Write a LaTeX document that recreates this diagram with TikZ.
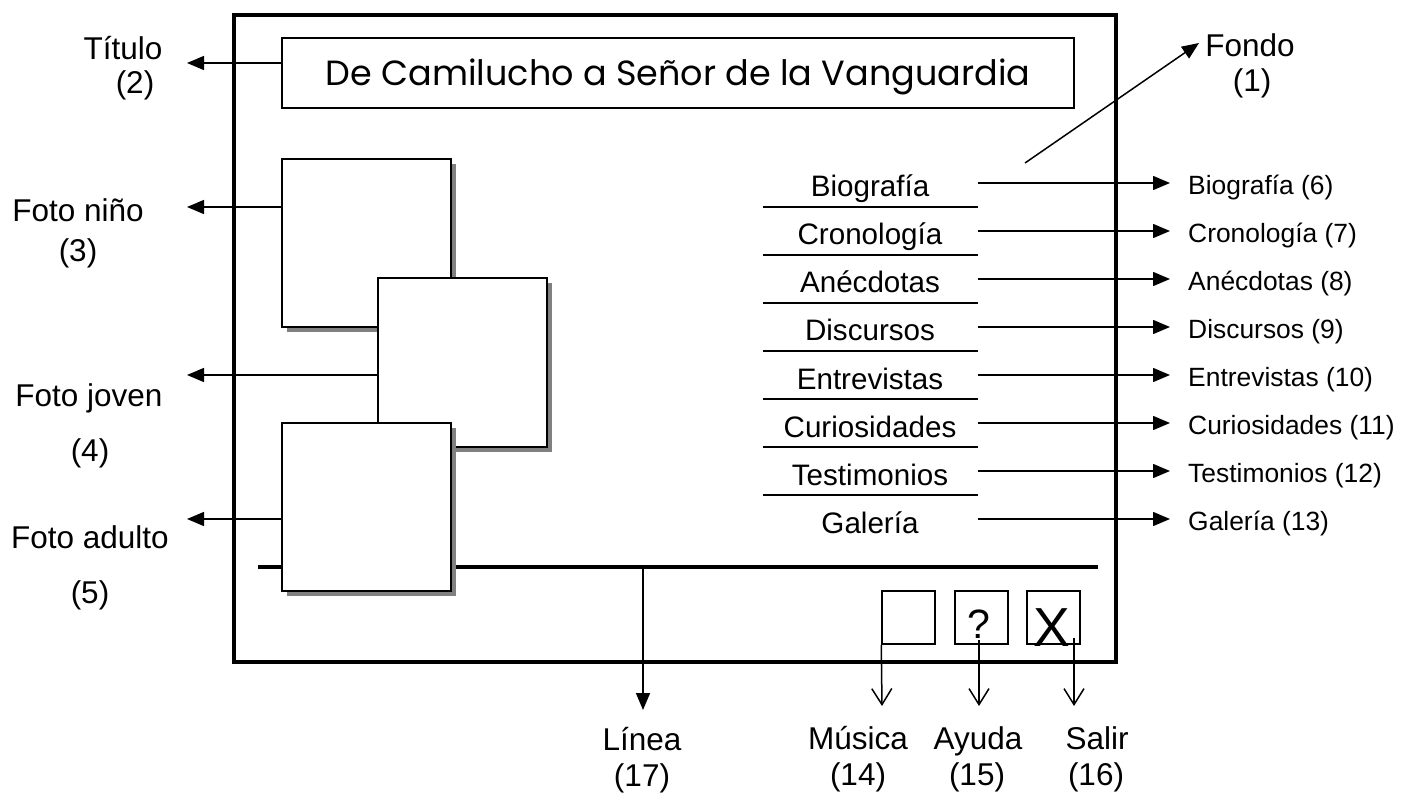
\documentclass[tikz,border=0pt]{standalone}
\usepackage{fontspec}
\setmainfont{Liberation Sans}
\newfontfamily\titlefont{Poppins}
\usetikzlibrary{arrows.meta, shadows}

\begin{document}
\begin{tikzpicture}[x=1pt, y=-1pt]
    % Styles for the labels, photos and arrows
    \tikzstyle{label}=[font=\fontsize{31.5}{36}\selectfont, inner sep=0pt, anchor=base]
    \tikzstyle{menu label}=[font=\fontsize{29.6}{34}\selectfont, inner sep=0pt, text height=21pt, text depth=0pt]
    \tikzstyle{item label}=[font=\fontsize{26.4}{30}\selectfont, inner sep=0pt, text height=19pt, text depth=0pt]
    \tikzstyle{photo}=[draw, line width=2pt, fill=white, minimum size=168.5pt, inner sep=0pt,
        drop shadow={shadow xshift=5pt, shadow yshift=-5pt, fill=black!50, opacity=1}]
    \tikzstyle{button}=[draw, line width=1.5pt, minimum size=53pt, inner sep=0pt]
    \tikzstyle{pointer}=[line width=1.5pt, -{Triangle[length=17pt, width=14pt]}]
    \tikzstyle{open pointer}=[line width=1.5pt, -{Straight Barb[length=16pt, width=20pt]}]

    \useasboundingbox (0,0) rectangle (1403,794);

    % Draw the frame and the title
    \draw[line width=3.5pt] (234,15) rectangle (1116,662);
    \node[draw, line width=1.5pt, minimum width=792pt, minimum height=70pt,
        text height=24.5pt, text depth=0pt,
        font=\titlefont\fontsize{35}{40}\selectfont] (title) at (678,73)
        {De Camilucho a Señor de la Vanguardia};
    \node[label] (titulo) at (123,60) {Título};
    \node[label] (titulo-n) at (135,94) {(2)};
    \coordinate (titulo-tip) at (187,63);
    \draw[pointer] (title.west |- 0,63) -- (titulo-tip);

    % Background pointer
    \node[label] (fondo) at (1250,57) {Fondo};
    \node[label] (fondo-n) at (1252,92) {(1)};
    \coordinate (fondo-start) at (1025,163);
    \coordinate (fondo-tip) at (1199,43);
    \draw[pointer] (fondo-start) -- (fondo-tip);

    % Draw the photos (the line goes under the last one)
    \node[photo] (nino) at (366.5,243) {};
    \node[photo] (joven) at (462.5,362.5) {};
    \coordinate (linea-left) at (258,567);
    \coordinate (linea-right) at (1098,567);
    \draw[line width=4pt] (linea-left) -- (linea-right);
    \node[photo] (adulto) at (366.5,507) {};

    % Photo labels and arrows
    \node[label] (nino-l) at (78,222) {Foto niño};
    \node[label] (nino-n) at (78,262) {(3)};
    \node[label] (joven-l) at (89,406) {Foto joven};
    \node[label] (joven-n) at (90,461) {(4)};
    \node[label] (adulto-l) at (90,548) {Foto adulto};
    \node[label] (adulto-n) at (90,603) {(5)};
    \coordinate (nino-tip) at (187,207);
    \coordinate (joven-tip) at (187,375);
    \coordinate (adulto-tip) at (187,519);
    \draw[pointer] (nino.west |- nino-tip) -- (nino-tip);
    \draw[pointer] (joven.west |- joven-tip) -- (joven-tip);
    \draw[pointer] (adulto.west |- adulto-tip) -- (adulto-tip);

    % Line pointer
    \coordinate (linea-mid) at (643,567);
    \coordinate (linea-tip) at (643,710);
    \draw[pointer] (linea-mid) -- (linea-tip);
    \node[label] (linea) at (642,750) {Línea};
    \node[label] (linea-n) at (642,786) {(17)};

    % Draw the menu, its underlines and arrows
    \foreach \i/\name/\num in {1/Biografía/6, 2/Cronología/7, 3/Anécdotas/8, 4/Discursos/9,
        5/Entrevistas/10, 6/Curiosidades/11, 7/Testimonios/12, 8/Galería/13} {
        \node[menu label] (m\i) at (870,{138.5+48*\i}) {\name};
        \coordinate (ms\i) at (978,{135+48*\i});
        \coordinate (me\i) at (1170,{135+48*\i});
        \node[item label, anchor=west] (r\i) at (1188,{137+48*\i}) {\name{} (\num)};
        \draw[pointer] (ms\i) -- (me\i);
    }
    \foreach \i in {1,...,7}
        \draw[line width=1.5pt] (763,{159+48*\i}) -- (978,{159+48*\i});

    % Draw the buttons
    \node[button] (musica-b) at (908.5,617.5) {};
    \node[button] (ayuda-b) at (981.5,617.5) {};
    \node[button] (salir-b) at (1053.5,617.5) {};
    \node[font=\fontsize{41}{41}\selectfont, inner sep=0pt] (ayuda-q) at (979,624) {?};
    \node[font=\fontsize{55}{55}\selectfont, inner sep=0pt] (salir-x) at (1052,628) {X};

    % Button pointers
    \coordinate (musica-tip) at (882,706);
    \coordinate (ayuda-start) at (979,640);
    \coordinate (ayuda-tip) at (979,706);
    \coordinate (salir-start) at (1074,638);
    \coordinate (salir-tip) at (1074,706);
    \draw[open pointer] (musica-b.south west) -- (musica-tip);
    \draw[open pointer] (ayuda-start) -- (ayuda-tip);
    \draw[open pointer] (salir-start) -- (salir-tip);
    \node[label] (musica) at (858,749) {Música};
    \node[label] (musica-n) at (858,785) {(14)};
    \node[label] (ayuda) at (978,749) {Ayuda};
    \node[label] (ayuda-n) at (977,785) {(15)};
    \node[label] (salir) at (1097,749) {Salir};
    \node[label] (salir-n) at (1096,785) {(16)};
\end{tikzpicture}
\end{document}
